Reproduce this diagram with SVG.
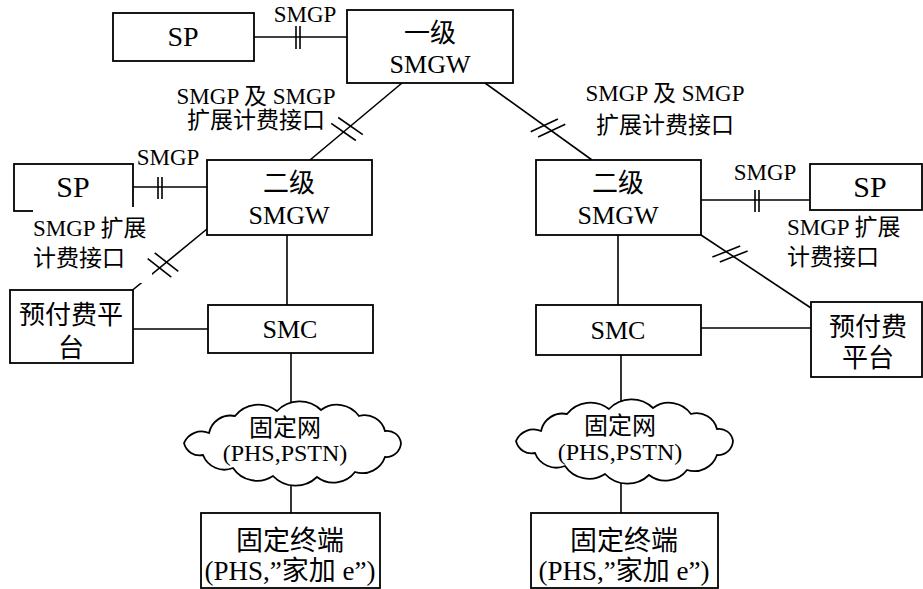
<svg xmlns="http://www.w3.org/2000/svg" xmlns:xlink="http://www.w3.org/1999/xlink" width="923" height="589" viewBox="0 0 923 589" font-family="Liberation Serif, Noto Sans CJK SC, serif">
<style>
.box{fill:#fff;stroke:#000;stroke-width:1.8}
.ln{stroke:#000;stroke-width:1.6;fill:none}
.tk{stroke:#000;stroke-width:1.6;fill:none}
.c{text-anchor:middle}
.big{font-size:30px}
.mid{font-size:26px}
.lab{font-size:23px}
.cl{font-size:24px}
</style>
<defs>
<path id="cloud" class="box" d="M-82,-10 A22,22 0 0 1 -56,-27 A30,30 0 0 1 -14,-32 A31,31 0 0 1 30,-33 A27,27 0 0 1 68,-27 A21,21 0 0 1 94,-12 A14,14 0 0 1 110,0 A15,15 0 0 1 94,14 A24,24 0 0 1 64,29 A27,27 0 0 1 26,34 A31,31 0 0 1 -18,33 A29,29 0 0 1 -58,25 A23,23 0 0 1 -88,12 A16,16 0 0 1 -107,0 A19,19 0 0 1 -82,-10 Z"/>
</defs>
<rect width="923" height="589" fill="#fff"/>
<g id="connectors">
<line class="ln" x1="254" y1="37" x2="347" y2="37"/>
<line class="ln" x1="402" y1="83" x2="310" y2="160"/>
<line class="ln" x1="485" y1="83" x2="592" y2="160"/>
<line class="ln" x1="133" y1="187" x2="207" y2="187"/>
<line class="ln" x1="207" y1="229" x2="118" y2="302"/>
<line class="ln" x1="287" y1="235" x2="287" y2="305"/>
<line class="ln" x1="133" y1="329" x2="208" y2="329"/>
<line class="ln" x1="291" y1="353" x2="291" y2="513"/>
<line class="ln" x1="701" y1="200" x2="810" y2="200"/>
<line class="ln" x1="701" y1="235" x2="811" y2="308"/>
<line class="ln" x1="618" y1="235" x2="618" y2="305"/>
<line class="ln" x1="701" y1="328" x2="811" y2="328"/>
<line class="ln" x1="621" y1="355" x2="621" y2="513"/>
<g id="ticks">
<line class="tk" x1="296" y1="26" x2="296" y2="49"/><line class="tk" x1="300" y1="26" x2="300" y2="49"/>
<line class="tk" x1="158" y1="177" x2="158" y2="199"/><line class="tk" x1="162" y1="177" x2="162" y2="199"/>
<line class="tk" x1="755" y1="190" x2="755" y2="212"/><line class="tk" x1="759" y1="190" x2="759" y2="212"/>
<line class="tk" x1="338.2" y1="117.5" x2="362.8" y2="134.7"/><line class="tk" x1="331.2" y1="123.3" x2="355.8" y2="140.5"/>
<line class="tk" x1="538.1" y1="136.9" x2="565.3" y2="124.3"/><line class="tk" x1="530.7" y1="131.7" x2="557.9" y2="119.1"/>
<line class="tk" x1="719.8" y1="262.1" x2="747.6" y2="250.9"/><line class="tk" x1="712.4" y1="257.1" x2="740.2" y2="245.9"/>
</g>
</g>
<g id="n-sp-top"><rect class="box" x="113" y="13" width="141" height="48"/><text class="c" x="183" y="46" font-size="28">SP</text></g>
<g id="n-smgw1"><rect class="box" x="347" y="10" width="166" height="73"/><text class="c mid" x="430" y="42">一级</text><text class="c mid" x="430" y="73">SMGW</text></g>
<g id="n-sp-left"><rect class="box" x="14" y="164" width="119" height="47"/><text class="c big" x="73" y="197">SP</text></g>
<g id="n-smgw2-left"><rect class="box" x="207" y="160" width="165" height="75"/><text class="c mid" x="289" y="192">二级</text><text class="c mid" x="289" y="224">SMGW</text></g>
<g id="n-prepaid-left"><rect class="box" x="10" y="290" width="123" height="73"/><text class="c mid" x="71" y="324">预付费平</text><text class="c mid" x="71" y="357">台</text></g>
<g id="n-smc-left"><rect class="box" x="208" y="305" width="165" height="48"/><text class="c mid" x="290" y="338">SMC</text></g>
<g id="n-cloud-left"><use xlink:href="#cloud" transform="translate(291,443)"/><text class="c cl" x="285" y="436">固定网</text><text class="c cl" x="285" y="461">(PHS,PSTN)</text></g>
<g id="n-term-left"><rect class="box" x="201" y="513" width="179" height="75"/><text class="c" font-size="27" x="290" y="550">固定终端</text><text class="c" font-size="27" x="290" y="580">(PHS,”家加 e”)</text></g>
<g id="n-smgw2-right"><rect class="box" x="536" y="160" width="165" height="75"/><text class="c mid" x="618" y="192">二级</text><text class="c mid" x="618" y="224">SMGW</text></g>
<g id="n-sp-right"><rect class="box" x="810" y="164" width="112" height="46"/><text class="c big" x="870" y="197">SP</text></g>
<g id="n-prepaid-right"><rect class="box" x="811" y="302" width="111" height="75"/><text class="c mid" x="868" y="336">预付费</text><text class="c mid" x="868" y="367">平台</text></g>
<g id="n-smc-right"><rect class="box" x="536" y="305" width="165" height="50"/><text class="c mid" x="618" y="339">SMC</text></g>
<g id="n-cloud-right"><use xlink:href="#cloud" transform="translate(623,441)"/><text class="c cl" x="620" y="434">固定网</text><text class="c cl" x="620" y="460">(PHS,PSTN)</text></g>
<g id="n-term-right"><rect class="box" x="531" y="513" width="187" height="75"/><text class="c" font-size="27" x="624" y="550">固定终端</text><text class="c" font-size="27" x="624" y="580">(PHS,”家加 e”)</text></g>
<g id="labels">
<text class="c lab" x="305" y="22">SMGP</text>
<text class="c lab" x="168" y="165">SMGP</text>
<text class="c lab" x="765" y="180">SMGP</text>
<text class="c lab" x="256" y="104">SMGP 及 SMGP</text>
<text class="c lab" x="256" y="128">扩展计费接口</text>
<text class="c lab" x="665" y="101">SMGP 及 SMGP</text>
<text class="c lab" x="665" y="133">扩展计费接口</text>
<rect x="33" y="207" width="119" height="76" fill="#fff"/>
<line class="tk" x1="154.7" y1="252.9" x2="178.3" y2="271.3"/><line class="tk" x1="147.7" y1="258.7" x2="171.3" y2="277.1"/>
<text class="lab" x="33" y="236">SMGP 扩展</text>
<text class="lab" x="33" y="266">计费接口</text>
<text class="lab" x="787" y="235">SMGP 扩展</text>
<text class="lab" x="787" y="265">计费接口</text>
</g>
</svg>
